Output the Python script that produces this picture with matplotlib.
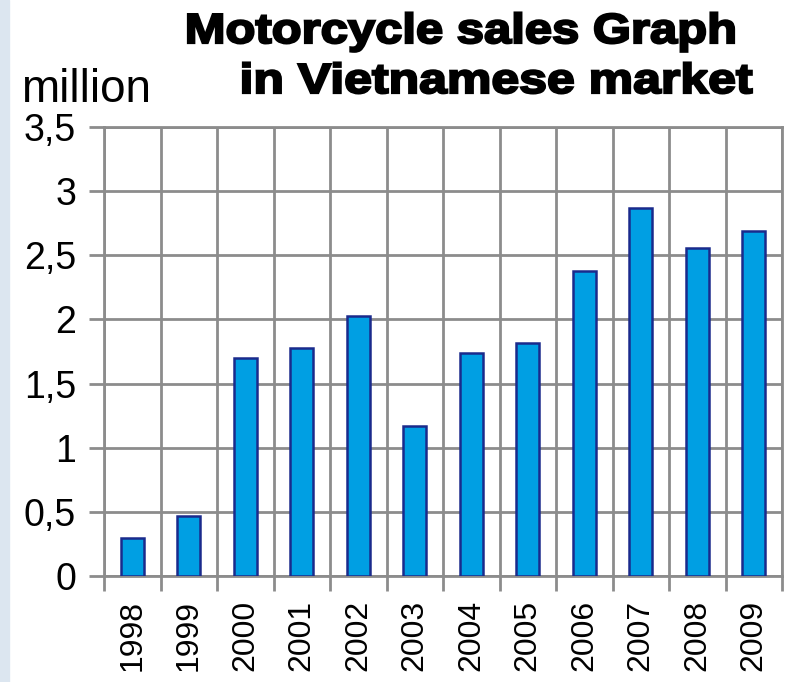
import matplotlib.pyplot as plt
import numpy as np
from matplotlib.ticker import FixedLocator
from matplotlib.textpath import TextPath
from matplotlib.patches import PathPatch
from matplotlib.font_manager import FontProperties
from matplotlib.transforms import Affine2D, IdentityTransform

years = ["1998", "1999", "2000", "2001", "2002", "2003",
         "2004", "2005", "2006", "2007", "2008", "2009"]
sales = [0.30, 0.47, 1.70, 1.78, 2.03, 1.17, 1.74, 1.82, 2.38, 2.87, 2.56, 2.69]
yticks = [0, 0.5, 1, 1.5, 2, 2.5, 3, 3.5]
ylabels = ["0", "0,5", "1", "1,5", "2", "2,5", "3", "3,5"]
title_lines = ["Motorcycle sales Graph", "in Vietnamese market"]

plt.rcParams['font.family'] = ['Liberation Sans', 'DejaVu Sans']
grid_c = '#8c8c8c'
W, H = 801, 682

fig = plt.figure(figsize=(W / 100, H / 100), dpi=100)
# light strip at left edge
fig.patches.append(plt.Rectangle((0, 0), 9 / W, 1, transform=fig.transFigure,
                                 color='#dce6f0', zorder=0))
ax = fig.add_axes([104 / W, 1 - 576 / H, 678 / W, 449 / H])

x = np.arange(len(years))
ax.bar(x, sales, width=0.41, color='#009fe3', edgecolor='#1a2a8c', lw=1.8, zorder=3)

ax.set_xlim(-0.5, len(years) - 0.5)
ax.set_ylim(0, 3.5)
ax.set_yticks(yticks)
ax.set_yticklabels(ylabels, fontsize=27)
ax.set_xticks(x)
ax.set_xticklabels(years, rotation=90, fontsize=23)
ax.xaxis.set_minor_locator(FixedLocator(np.arange(-0.5, len(years), 1)))

ax.tick_params(axis='x', which='major', length=0, pad=17)
ax.tick_params(axis='x', which='minor', length=11, width=2, color=grid_c)
ax.tick_params(axis='y', length=11, width=2, color=grid_c, pad=9)
ax.grid(axis='y', which='major', color=grid_c, lw=2, zorder=0)
ax.grid(axis='x', which='minor', color=grid_c, lw=2, zorder=0)
for s in ax.spines.values():
    s.set_color(grid_c)
    s.set_linewidth(2)

fig.text(21 / W, 1 - 102 / H, "million", fontsize=33, va='baseline', ha='left')

# heavy, slightly widened title drawn as text paths (pixel coordinates)
fp = FontProperties(family='Liberation Sans', weight='bold')
for line, (x0, x1, base) in zip(title_lines, [(188, 734, 43), (243, 752, 93)]):
    tp = TextPath((0, 0), line, size=42, prop=fp)
    ext = tp.get_extents()
    sx = (x1 - x0) / ext.width
    tr = Affine2D().scale(sx, 1).translate(x0 - ext.x0 * sx, H - base)
    fig.patches.append(PathPatch(tp, transform=tr + IdentityTransform(),
                                 fc='black', ec='black', lw=1.6))

fig.savefig("out.png", dpi=100)
